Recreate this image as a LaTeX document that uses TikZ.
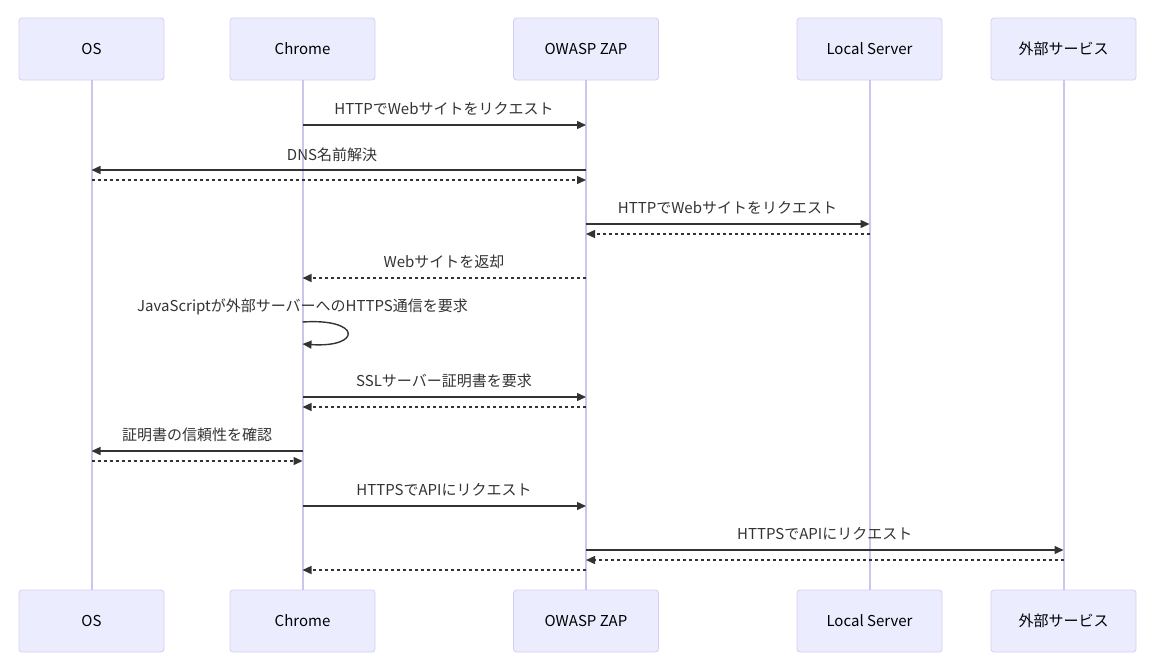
\documentclass[tikz,border=0pt]{standalone}
\usepackage{fontspec}
\setmainfont{Noto Sans CJK JP}
\usetikzlibrary{arrows.meta}
\definecolor{actfill}{HTML}{ECECFF}
\definecolor{actline}{HTML}{D6CDF3}
\definecolor{lifecol}{HTML}{CFC3F0}
\definecolor{msgcol}{HTML}{333333}
\begin{document}
\begin{tikzpicture}[x=1pt,y=-1pt,
  actor/.style={draw=actline, fill=actfill, rounded corners=3pt, minimum width=145pt, minimum height=62pt, line width=0.8pt, font=\fontsize{15}{17}\selectfont, text=black, inner sep=0pt},
  life/.style={draw=lifecol, line width=2pt},
  msg/.style={draw=msgcol, line width=1.4pt, -{Triangle[length=9pt,width=8pt]}},
  reply/.style={msg, dash pattern=on 3pt off 3pt},
  lbl/.style={font=\fontsize{15}{17}\selectfont, text=msgcol, inner sep=0pt}]
\useasboundingbox (0,0) rectangle (1153,667);
% top actors
\node[actor] (osT) at (91.5,49) {OS};
\node[actor] (chT) at (302.5,49) {Chrome};
\node[actor] (zapT) at (586,49) {OWASP ZAP};
\node[actor] (lsT) at (869.5,49) {Local Server};
\node[actor] (exT) at (1063.5,49) {外部サービス};
% bottom actors
\node[actor] (osB) at (91.5,621) {OS};
\node[actor] (chB) at (302.5,621) {Chrome};
\node[actor] (zapB) at (586,621) {OWASP ZAP};
\node[actor] (lsB) at (869.5,621) {Local Server};
\node[actor] (exB) at (1063.5,621) {外部サービス};
% lifelines
\draw[life] (osT.south) -- (osB.north);
\draw[life] (chT.south) -- (chB.north);
\draw[life] (zapT.south) -- (zapB.north);
\draw[life] (lsT.south) -- (lsB.north);
\draw[life] (exT.south) -- (exB.north);
% message end points
\coordinate (m1a) at (302.5,125); \coordinate (m1b) at (586,125);
\coordinate (m2a) at (586,170); \coordinate (m2b) at (91.5,170);
\coordinate (m3a) at (91.5,180); \coordinate (m3b) at (586,180);
\coordinate (m4a) at (586,224); \coordinate (m4b) at (869.5,224);
\coordinate (m5a) at (869.5,234); \coordinate (m5b) at (586,234);
\coordinate (m6a) at (586,278); \coordinate (m6b) at (302.5,278);
\coordinate (m7a) at (302.5,322); \coordinate (m7b) at (302.5,344);
\coordinate (m8a) at (302.5,397); \coordinate (m8b) at (586,397);
\coordinate (m9a) at (586,407); \coordinate (m9b) at (302.5,407);
\coordinate (m10a) at (302.5,451); \coordinate (m10b) at (91.5,451);
\coordinate (m11a) at (91.5,461); \coordinate (m11b) at (302.5,461);
\coordinate (m12a) at (302.5,506); \coordinate (m12b) at (586,506);
\coordinate (m13a) at (586,550); \coordinate (m13b) at (1063.5,550);
\coordinate (m14a) at (1063.5,560); \coordinate (m14b) at (586,560);
\coordinate (m15a) at (586,570); \coordinate (m15b) at (302.5,570);
% messages
\draw[msg] (m1a) -- (m1b);
\node[lbl] (t1) at (444,109) {HTTPでWebサイトをリクエスト};
\draw[msg] (m2a) -- (m2b);
\node[lbl] (t2) at (332,155) {DNS名前解決};
\draw[reply] (m3a) -- (m3b);
\draw[msg] (m4a) -- (m4b);
\node[lbl] (t4) at (727.5,208) {HTTPでWebサイトをリクエスト};
\draw[reply] (m5a) -- (m5b);
\draw[reply] (m6a) -- (m6b);
\node[lbl] (t6) at (444,262) {Webサイトを返却};
\draw[msg] (m7a) .. controls (362,318) and (362,348) .. (m7b);
\node[lbl] (t7) at (302.5,307) {JavaScriptが外部サーバーへのHTTPS通信を要求};
\draw[msg] (m8a) -- (m8b);
\node[lbl] (t8) at (444,381) {SSLサーバー証明書を要求};
\draw[reply] (m9a) -- (m9b);
\draw[msg] (m10a) -- (m10b);
\node[lbl] (t10) at (197,435) {証明書の信頼性を確認};
\draw[reply] (m11a) -- (m11b);
\draw[msg] (m12a) -- (m12b);
\node[lbl] (t12) at (444,490) {HTTPSでAPIにリクエスト};
\draw[msg] (m13a) -- (m13b);
\node[lbl] (t13) at (824.75,534) {HTTPSでAPIにリクエスト};
\draw[reply] (m14a) -- (m14b);
\draw[reply] (m15a) -- (m15b);
\end{tikzpicture}
\end{document}
